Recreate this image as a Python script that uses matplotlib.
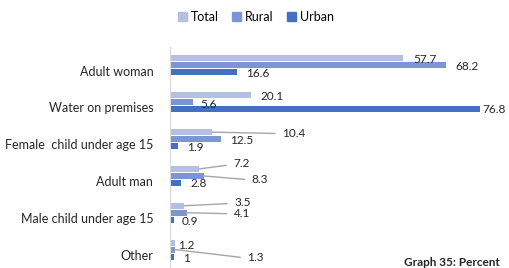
import matplotlib.pyplot as plt
from matplotlib.patches import Patch

categories = ['Adult woman', 'Water on premises', 'Female  child under age 15',
              'Adult man', 'Male child under age 15', 'Other']
series = ['Total', 'Rural', 'Urban']
total = [57.7, 20.1, 10.4, 7.2, 3.5, 1.2]
rural = [68.2, 5.6, 12.5, 8.3, 4.1, 1.3]
urban = [16.6, 76.8, 1.9, 2.8, 0.9, 1]
values = [total, rural, urban]
labels = [['57.7', '20.1', '10.4', '7.2', '3.5', '1.2'],
          ['68.2', '5.6', '12.5', '8.3', '4.1', '1.3'],
          ['16.6', '76.8', '1.9', '2.8', '0.9', '1']]

colors = ['#B4C0E2', '#7D95D6', '#4470C2']

# label offsets from the bar end in pixels (dx, dy down), per category / series
offsets = [
    [(10, 1), (10, 1.5), (9, 1)],
    [(9, 1), (7.5, 2), (2, 0)],
    [(70, 1), (10, 1.5), (9, 1)],
    [(34, -5), (48, 3.5), (9, 1)],
    [(50, -3), (47, 0.5), (8, 1.5)],
    [(3, 3), (72, 8), (9, 2)],
]

plt.rcParams['font.family'] = ['Lato', 'DejaVu Sans']

fig = plt.figure(figsize=(5.09, 2.68), dpi=100)
ax = fig.add_axes([170 / 509, 0, 339 / 509, 221 / 268])

step = 0.19
for i, vals in enumerate(values):
    ys = [c + (i - 1) * step for c in range(len(categories))]
    ax.barh(ys, vals, height=0.165, color=colors[i])
    for c, v in enumerate(vals):
        dx, dy = offsets[c][i]
        lead = dx > 20
        ax.annotate(labels[i][c], xy=(v, ys[c]), xytext=(dx, -dy),
                    textcoords='offset pixels', ha='left', va='center',
                    fontsize=8.5, color='#262626', annotation_clip=False,
                    arrowprops=dict(arrowstyle='-', color='#A6A6A6', lw=1,
                                    shrinkA=3, shrinkB=0, relpos=(0, 0.45)) if lead else None)

ax.set_xlim(0, 339 / 4.04)
ax.set_ylim(5.5, -0.5)
ax.set_yticks([c + 0.14 for c in range(len(categories))])
ax.set_yticklabels(categories, fontsize=9, color='#262626')
ax.tick_params(axis='y', length=0, pad=12)
ax.set_xticks([])
for s in ['top', 'right', 'bottom']:
    ax.spines[s].set_visible(False)
ax.spines['left'].set_color('#D9D9D9')

handles = [Patch(color=col, label=s) for col, s in zip(colors, series)]
fig.legend(handles=handles, loc='center', bbox_to_anchor=(256 / 509, 1 - 17 / 268),
           ncol=3, frameon=False, fontsize=9, handlelength=0.7, handleheight=0.7,
           handletextpad=0.3, columnspacing=1.1)

fig.text(404 / 509, 2 / 268, 'Graph 35: Percent', fontsize=8.5, fontweight='bold',
         color='#262626', ha='left', va='baseline')

fig.savefig('out.png', dpi=100)
